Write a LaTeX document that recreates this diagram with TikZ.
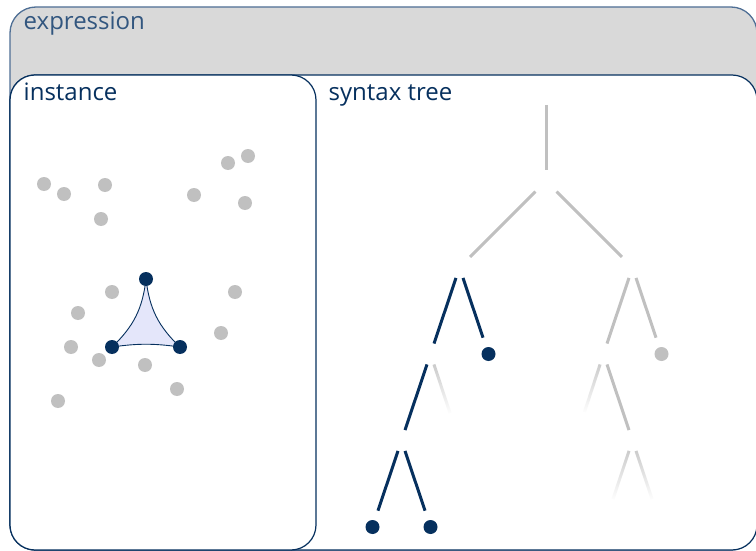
\documentclass[tikz,border=0pt]{standalone}
\usepackage{fontspec}
\setmainfont{Open Sans}
\usetikzlibrary{fadings}

\definecolor{navy}{HTML}{06305E}
\definecolor{steel}{HTML}{4F6F95}
\definecolor{boxgray}{HTML}{D9D9D9}
\definecolor{dotgray}{HTML}{C0C0C0}
\definecolor{trifill}{HTML}{E4E6FA}

\tikzfading[name=fade out, top color=transparent!0, bottom color=transparent!100]

\tikzset{
  lbl/.style={anchor=base west, inner sep=0pt, text=navy, font=\fontsize{24}{28}\selectfont},
  pt/.style={circle, fill=dotgray, inner sep=0pt, minimum size=14pt},
  leaf/.style={circle, fill=navy, inner sep=0pt, minimum size=14pt},
  branch/.style={line width=3pt, navy, shorten <=11pt, shorten >=11pt},
  wide/.style={shorten <=15pt, shorten >=15pt},
  toleaf/.style={shorten >=10pt},
  faded/.style={line width=3pt, dotgray, shorten <=11pt, path fading=fade out}
}

\begin{document}
\begin{tikzpicture}[x=1pt,y=-1pt]
\useasboundingbox (0,0) rectangle (756,551);

% frames
\draw [steel, fill=boxgray, line width=1.3pt, rounded corners=26pt] (10,7) rectangle (757,550);
\draw [navy, fill=white, line width=1.2pt, rounded corners=25pt] (10,75) rectangle (757,550);
\draw [navy, fill=white, line width=1.2pt, rounded corners=25pt] (10,75) rectangle (316,550);

\node [lbl, text=steel!60!navy] (expr) at (23.5,30) {expression};
\node [lbl] (inst) at (23.5,100) {instance};
\node [lbl] (syn) at (328.5,100) {syntax tree};

% instance: scattered points
\foreach \p [count=\i] in {(44,184),(64,194),(105,185),(101,219),(194,195),(228,163),
    (248,156),(245,203),(112,292),(235,292),(78,313),(221,333),(71,347),(99,360),
    (145,365),(177,389),(58,401)}
   \node [pt] (p\i) at \p {};

\coordinate (t1) at (146,279);
\coordinate (t2) at (112,347);
\coordinate (t3) at (180,347);
\draw [navy, fill=trifill, line width=0.9pt]
   (t1) to[bend left=20] (t2) to[bend left=8] (t3) to[bend left=20] (t1) -- cycle;
\foreach \t in {t1,t2,t3}
   \node [leaf] (\t d) at (\t) {};

% syntax tree
\coordinate (top) at (546,105);
\coordinate (R) at (546,181);
\coordinate (A) at (459.5,267.5);
\coordinate (B) at (632.5,267.5);
\coordinate (C) at (430.5,354);
\coordinate (D) at (401.5,440.5);
\coordinate (E) at (603.5,354);
\coordinate (F) at (632.5,440.5);
\coordinate (cfade) at (450,413);
\coordinate (efade) at (584.5,412);
\coordinate (ffade1) at (613,499);
\coordinate (ffade2) at (652,499);

\node [leaf] (a2) at (488.5,354) {};
\node [leaf] (d1) at (372.5,527) {};
\node [leaf] (d2) at (430.5,527) {};
\node [pt] (b2) at (661.5,354) {};

\draw [line width=3pt, dotgray, shorten >=11pt] (top) -- (R);
\draw [branch, dotgray, wide] (R) -- (A);
\draw [branch, dotgray, wide] (R) -- (B);

\draw [branch] (A) -- (C);
\draw [branch, toleaf] (A) -- (a2);
\draw [branch] (C) -- (D);
\draw [faded] (C) -- (cfade);
\draw [branch, toleaf] (D) -- (d1);
\draw [branch, toleaf] (D) -- (d2);

\draw [branch, dotgray] (B) -- (E);
\draw [branch, dotgray, toleaf] (B) -- (b2);
\draw [faded] (E) -- (efade);
\draw [branch, dotgray] (E) -- (F);
\draw [faded] (F) -- (ffade1);
\draw [faded] (F) -- (ffade2);

\end{tikzpicture}
\end{document}
